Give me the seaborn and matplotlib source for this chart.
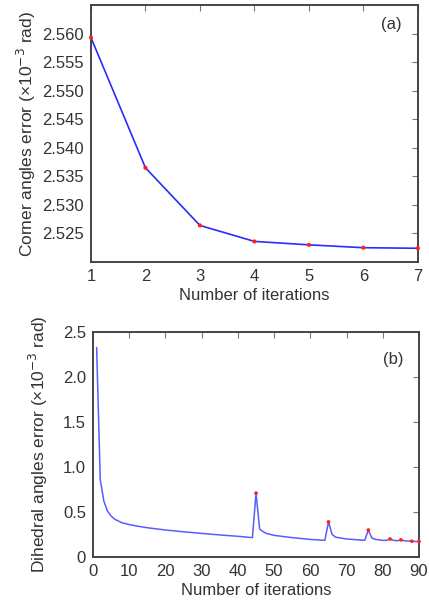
from __future__ import annotations

import matplotlib
import matplotlib.pyplot as plt
import pandas as pd
import seaborn as sns


matplotlib.use("Agg")


# (a) corner angles error per iteration
CORNER_ITER = [1, 2, 3, 4, 5, 6, 7]
CORNER_ERR = [2.5593, 2.5365, 2.5264, 2.5236, 2.5230, 2.5225, 2.5224]
CORNER_YTICKS = [2.525, 2.530, 2.535, 2.540, 2.545, 2.550, 2.555, 2.560]

# (b) dihedral angles error per iteration
DIHEDRAL_ITER = [
    1, 2, 3, 4, 5, 6, 7, 8, 9, 10, 12, 15, 20, 25, 30, 35, 40, 44,
    45, 46, 47, 48, 50, 55, 60, 64, 65, 66, 67, 70, 75, 76, 77, 78,
    80, 81, 82, 83, 84, 85, 86, 88, 89, 90,
]
DIHEDRAL_ERR = [
    2.33, 0.86, 0.62, 0.51, 0.455, 0.42, 0.40, 0.38, 0.37, 0.36, 0.345,
    0.325, 0.30, 0.28, 0.262, 0.245, 0.23, 0.215,
    0.71, 0.31, 0.28, 0.26, 0.24, 0.215, 0.195, 0.185, 0.39, 0.25, 0.22,
    0.20, 0.185, 0.30, 0.21, 0.195,
    0.185, 0.185, 0.20, 0.185, 0.18, 0.19, 0.18, 0.175, 0.172, 0.172,
]
DIHEDRAL_MARKED = [45, 65, 76, 82, 85, 88, 90]
DIHEDRAL_YTICKS = [0, 0.5, 1.0, 1.5, 2.0, 2.5]
DIHEDRAL_YLABELS = ["0", "0.5", "1.0", "1.5", "2.0", "2.5"]
DIHEDRAL_XTICKS = [0, 10, 20, 30, 40, 50, 60, 70, 80, 90]

TEXT_COLOR = "#333333"
FONT_SIZE = 12


def style_axes(ax: plt.Axes) -> None:
    for spine in ax.spines.values():
        spine.set_visible(True)
        spine.set_color("#444444")
        spine.set_linewidth(1.4)
    ax.tick_params(
        direction="in", top=True, right=True, length=4, width=0.8,
        colors="#777777", labelcolor=TEXT_COLOR, labelsize=FONT_SIZE, pad=5,
    )
    ax.grid(False)


def main() -> None:
    sns.set_theme(style="white")
    plt.rcParams["font.family"] = ["Liberation Sans", "DejaVu Sans"]

    fig = plt.figure(figsize=(4.29, 6.06), dpi=100)

    # panel (a)
    ax1 = fig.add_axes([0.212, 0.5677, 0.762, 0.424])
    corner = pd.DataFrame({"iter": CORNER_ITER, "err": CORNER_ERR})
    sns.lineplot(data=corner, x="iter", y="err", ax=ax1, color="#2b2bff", linewidth=1.2)
    sns.scatterplot(data=corner, x="iter", y="err", ax=ax1, color="#ff2020",
                    s=9, edgecolor="none", zorder=3, clip_on=False)
    ax1.set_xlim(1, 7)
    ax1.set_ylim(2.520, 2.565)
    ax1.set_xticks(CORNER_ITER)
    ax1.set_yticks(CORNER_YTICKS)
    ax1.set_yticklabels([f"{v:.3f}" for v in CORNER_YTICKS])
    ax1.set_xlabel("Number of iterations", fontsize=FONT_SIZE, color=TEXT_COLOR, labelpad=3)
    ax1.set_ylabel("Corner angles error (×10$^{-3}$ rad)", fontsize=12.5,
                   color=TEXT_COLOR, labelpad=3)
    ax1.text(0.92, 0.925, "(a)", transform=ax1.transAxes, ha="center", va="center",
             fontsize=FONT_SIZE, color=TEXT_COLOR)
    style_axes(ax1)

    # panel (b)
    ax2 = fig.add_axes([0.2168, 0.0809, 0.760, 0.371])
    dihedral = pd.DataFrame({"iter": DIHEDRAL_ITER, "err": DIHEDRAL_ERR})
    marked = dihedral[dihedral["iter"].isin(DIHEDRAL_MARKED)]
    sns.lineplot(data=dihedral, x="iter", y="err", ax=ax2, color="#5a5aff", linewidth=1.1)
    sns.scatterplot(data=marked, x="iter", y="err", ax=ax2, color="#ff2020",
                    s=7, edgecolor="none", zorder=3, clip_on=False)
    ax2.set_xlim(0, 90)
    ax2.set_ylim(0, 2.5)
    ax2.set_xticks(DIHEDRAL_XTICKS)
    ax2.set_yticks(DIHEDRAL_YTICKS)
    ax2.set_yticklabels(DIHEDRAL_YLABELS)
    ax2.set_xlabel("Number of iterations", fontsize=FONT_SIZE, color=TEXT_COLOR, labelpad=3)
    ax2.set_ylabel("Dihedral angles error (×10$^{-3}$ rad)", fontsize=12.5,
                   color=TEXT_COLOR, labelpad=9)
    ax2.text(0.92, 0.88, "(b)", transform=ax2.transAxes, ha="center", va="center",
             fontsize=FONT_SIZE, color=TEXT_COLOR)
    style_axes(ax2)

    fig.savefig("out.png", dpi=100)
    plt.close(fig)


if __name__ == "__main__":
    main()
